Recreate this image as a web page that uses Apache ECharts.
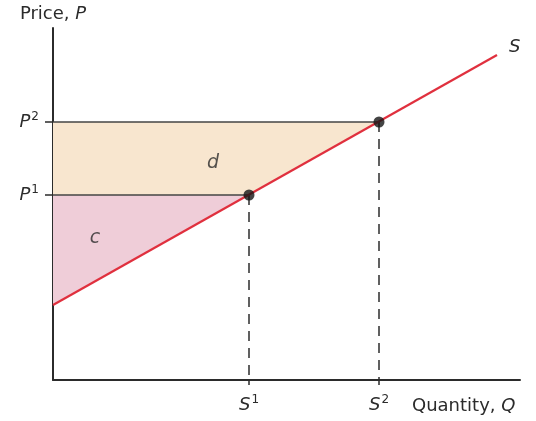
<!DOCTYPE html>
<html>
<head>
<meta charset="utf-8">
<script src="https://cdn.jsdelivr.net/npm/echarts@6/dist/echarts.min.js"></script>
<style>
  html, body { margin: 0; padding: 0; background: #fff; }
  #chart { width: 536px; height: 421px; }
</style>
</head>
<body>
<div id="chart"></div>
<script>
// supply curve S: quantity and price at its two ends
const supplyQ = [0, 444];
const supplyP = [75, 325];
// prices and the quantities supplied at them
const prices = [185, 258];       // P1, P2
const quantities = [196, 326];   // S1, S2
const priceLabels = ['1', '2'];
const quantityLabels = ['1', '2'];
const axisMax = { q: 467, p: 352 };
// area labels with the point they sit on
const areaNames = ['c', 'd'];
const areaLabelQ = [42, 160];
const areaLabelP = [142, 217];

const font = 'DejaVu Sans';
const ink = '#2b2b2b';
const red = '#e0303e';

const supplyData = supplyQ.map((q, i) => [q, supplyP[i]]);
const points = quantities.map((q, i) => [q, prices[i]]);

// area c: below P1, above S ; area d: between P1 and P2, left of S
const areaC = [[0, supplyP[0]], [0, prices[0]], [quantities[0], prices[0]]];
const areaD = [[0, prices[0]], [0, prices[1]], [quantities[1], prices[1]], [quantities[0], prices[0]]];

const polygonSeries = (pts, fill) => ({
  type: 'custom',
  z: 1,
  silent: true,
  data: [0],
  renderItem: (params, api) => ({
    type: 'polygon',
    shape: { points: pts.map(p => api.coord(p)) },
    style: { fill: fill }
  })
});

const sup = {
  i: { fontFamily: font, fontSize: 18, fontStyle: 'italic', color: ink, lineHeight: 22 },
  n: { fontFamily: font, fontSize: 18, color: ink, lineHeight: 22 },
  s: { fontFamily: font, fontSize: 12, color: ink, verticalAlign: 'top', lineHeight: 22, padding: [0, 0, 10, 1] }
};

const option = {
  backgroundColor: '#fff',
  animation: false,
  grid: { left: 53, top: 28, right: 16, bottom: 41, outerBoundsMode: 'none', containLabel: false },
  xAxis: {
    type: 'value',
    min: 0,
    max: axisMax.q,
    name: '{n|Quantity, }{i|Q}',
    nameLocation: 'end',
    nameGap: -108,
    nameTextStyle: {
      align: 'left',
      verticalAlign: 'top', padding: [15, 0, 0, 0],
      rich: sup
    },
    axisLine: { lineStyle: { color: ink, width: 2 } },
    axisTick: { show: true, customValues: quantities, length: 5, lineStyle: { color: ink, width: 1.5 } },
    axisLabel: {
      customValues: quantities,
      margin: 14,
      formatter: v => '{i|S}{s|' + quantityLabels[quantities.indexOf(v)] + '}',
      rich: sup
    },
    splitLine: { show: false }
  },
  yAxis: {
    type: 'value',
    min: 0,
    max: axisMax.p,
    name: '{n|Price, }{i|P}',
    nameLocation: 'end',
    nameGap: 3,
    nameTextStyle: { rich: sup },
    axisLine: { lineStyle: { color: ink, width: 2 } },
    axisTick: { show: true, customValues: prices, length: 8, lineStyle: { color: ink, width: 1.5 } },
    axisLabel: {
      customValues: prices,
      margin: 14,
      formatter: v => '{i|P}{s|' + priceLabels[prices.indexOf(v)] + '}',
      rich: sup
    },
    splitLine: { show: false }
  },
  series: [
    polygonSeries(areaC, '#efcdd8'),
    polygonSeries(areaD, '#f8e6cf'),
    // price lines
    ...points.map(p => ({
      type: 'line', z: 3, symbol: 'none', silent: true,
      lineStyle: { color: '#444', width: 1.5 },
      data: [[0, p[1]], p]
    })),
    // dashed drops to quantity axis
    ...points.map(p => ({
      type: 'line', z: 3, symbol: 'none', silent: true,
      lineStyle: { color: ink, width: 1.5, type: [10, 7] },
      data: [p, [p[0], 0]]
    })),
    {
      type: 'line',
      z: 4,
      symbol: 'none',
      silent: true,
      lineStyle: { color: red, width: 2.2 },
      data: supplyData,
      endLabel: {
        show: true,
        formatter: 'S',
        offset: [4, -8],
        fontFamily: font, fontSize: 18, fontStyle: 'italic', color: ink
      }
    },
    {
      type: 'scatter',
      z: 5,
      symbolSize: 11,
      itemStyle: { color: '#151515' },
      data: points
    },
    {
      type: 'scatter',
      z: 5,
      symbolSize: 0,
      data: areaNames.map((n, i) => ({ name: n, value: [areaLabelQ[i], areaLabelP[i]] })),
      label: {
        show: true,
        position: 'inside',
        formatter: '{b}',
        fontFamily: font, fontSize: 19, fontStyle: 'italic', color: ink
      }
    }
  ]
};

const chart = echarts.init(document.getElementById('chart'));
chart.setOption(option);
</script>
</body>
</html>
